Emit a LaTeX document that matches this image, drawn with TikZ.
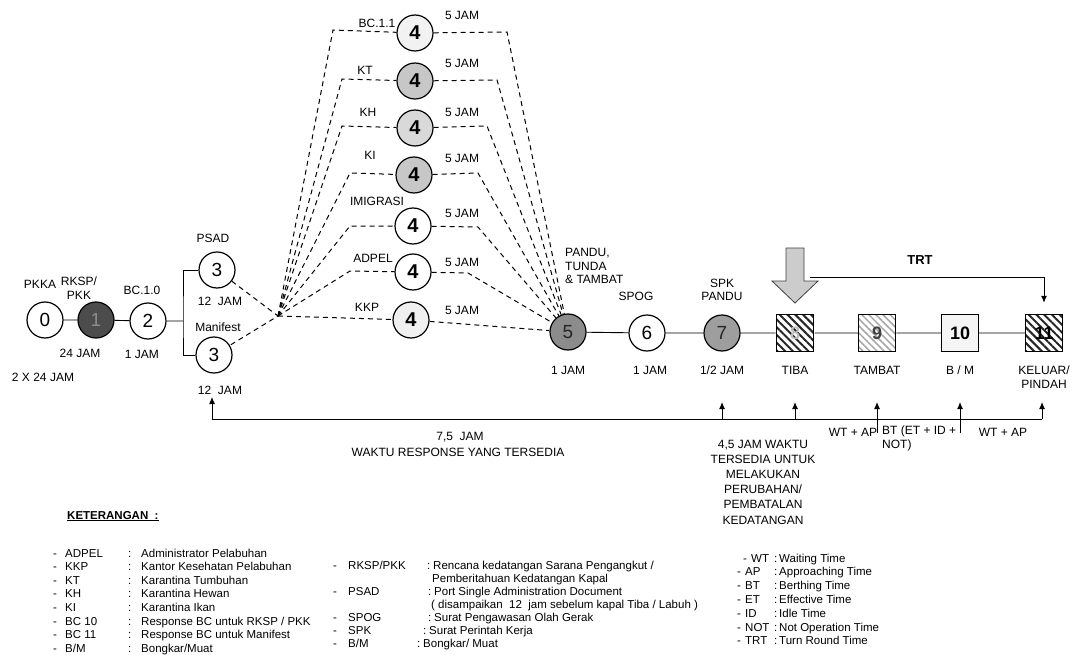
\documentclass[tikz,border=0pt]{standalone}
\usepackage{fontspec}
\setmainfont{Liberation Sans}
\usetikzlibrary{patterns.meta}
\usetikzlibrary{arrows.meta}

\begin{document}
\begin{tikzpicture}[x=1pt,y=-1pt,
  lab/.style={inner sep=0pt,font=\fontsize{12}{13.5}\selectfont},
  leg/.style={inner sep=0pt,anchor=west,text height=8.5pt,text depth=2.5pt,
    font=\fontsize{11.5}{13}\selectfont},
  circ/.style={circle,draw,line width=1.2pt,minimum size=36pt,inner sep=0pt,
    font=\fontsize{19}{19}\selectfont},
  four/.style={circ,font=\fontsize{20}{20}\selectfont\bfseries},
  sq/.style={draw,line width=1.4pt,minimum size=37pt,inner sep=0pt,
    font=\fontsize{18}{18}\selectfont\bfseries},
  dsh/.style={line width=1pt,dash pattern=on 5pt off 4pt},
  tick/.style={line width=1pt,-{Latex[length=7pt,width=6pt]}}]
 \useasboundingbox (0,0) rectangle (1073,655);

 % first stage
 \node[circ] (n0) at (45,320) {0};
 \node[circ,fill=black!70,text=black!45] (n1) at (96,320) {1};
 \node[circ] (n2) at (148,321) {2};
 \node[circ] (psad) at (217,270) {3};
 \node[circ] (manif) at (214,355) {3};
 \coordinate (brk) at (183,321);
 \draw[line width=0.9pt] (n0) -- (n1) -- (n2) -- (brk);
 \draw[line width=0.9pt] (psad) -| (brk) |- (manif);

 \node[lab] (lpkka) at (40,284) {PKKA};
 \node[lab,align=center] (lrksp) at (79,288) {RKSP/\\PKK};
 \node[lab] (lbc10) at (142,290) {BC.1.0};
 \node[lab] (l24) at (80,353) {24 JAM};
 \node[lab] (l1a) at (142,354) {1 JAM};
 \node[lab] (l2x) at (43,377) {2 X 24 JAM};
 \node[lab] (lpsad) at (213,238) {PSAD};
 \node[lab] (l12a) at (220,301) {12\ \ JAM};
 \node[lab] (lman) at (218,327) {Manifest};
 \node[lab] (l12b) at (220,390) {12\ \ JAM};

 % the seven offices
 \node[four,fill=black!5] (bc) at (415,33) {4};
 \node[four,fill=black!22] (kt) at (415,81) {4};
 \node[four,fill=black!15] (kh) at (415,128) {4};
 \node[four,fill=black!22] (ki) at (414,175) {4};
 \node[four] (imi) at (413,226) {4};
 \node[four] (adp) at (413,272) {4};
 \node[four,fill=black!6] (kkp) at (411,320) {4};

 \node[lab] (lbc) at (377,23) {BC.1.1};
 \node[lab] (lkt) at (365,70) {KT};
 \node[lab] (lkh) at (368,112) {KH};
 \node[lab] (lki) at (370,155) {KI};
 \node[lab] (limi) at (377,201) {IMIGRASI};
 \node[lab] (ladp) at (373,258) {ADPEL};
 \node[lab] (lkkp) at (367,307) {KKP};
 \foreach \nm/\y in {a/15,b/63,c/112,d/158,e/213,f/262,g/310}
  \node[lab] (j\nm) at (462,\y) {5 JAM};

 \node[circ,fill=black!45,text=black!85] (n5) at (568,332) {5};
 \coordinate (conv) at (278,316);
 \draw[dsh] (psad) -- (conv) -- (manif);
 \draw[dsh] (conv) -- (333,30) -- (bc);
 \draw[dsh] (conv) -- (342,79) -- (kt);
 \draw[dsh] (conv) -- (342,126) -- (kh);
 \draw[dsh] (conv) -- (350,173) -- (ki);
 \draw[dsh] (conv) -- (350,226) -- (imi);
 \draw[dsh] (conv) -- (350,271) -- (adp);
 \draw[dsh] (conv) -- (kkp);
 \draw[dsh] (bc) -- (507,32) -- (n5);
 \draw[dsh] (kt) -- (497,80) -- (n5);
 \draw[dsh] (kh) -- (487,126) -- (n5);
 \draw[dsh] (ki) -- (478,173) -- (n5);
 \draw[dsh] (imi) -- (478,227) -- (n5);
 \draw[dsh] (adp) -- (468,273) -- (n5);
 \draw[dsh] (kkp) -- (n5);

 % arrival and berthing
 \node[circ] (n6) at (647,333) {6};
 \node[circ,fill=black!38,text=black!85] (n7) at (722,333) {7};
 \node[sq,pattern={Lines[angle=-45,distance=5.5pt,line width=2pt]},
   pattern color=black!85,text=black!25] (s8) at (795,333) {8};
 \node[sq,pattern={Lines[angle=-45,distance=5pt,line width=1.5pt]},
   pattern color=black!35,text=black!75] (s9) at (877,333) {9};
 \node[sq,fill=black!4] (s10) at (960,333) {10};
 \node[sq,pattern={Lines[angle=-45,distance=5.5pt,line width=2pt]},
   pattern color=black!85] (s11) at (1044,333) {11};
 \draw[line width=0.9pt] (n5) -- (n6) -- (n7) -- (s8) -- (s9) -- (s10) -- (s11);

 \node[lab,align=left,anchor=west] (lpandu) at (565,266) {PANDU,\\TUNDA\\\& TAMBAT};
 \node[lab] (lspog) at (636,296) {SPOG};
 \node[lab,align=center] (lspk) at (722,290) {SPK\\PANDU};
 \node[lab] (l1b) at (568,370) {1 JAM};
 \node[lab] (l1c) at (650,370) {1 JAM};
 \node[lab] (lhalf) at (722,370) {1/2 JAM};
 \node[lab] (ltiba) at (795,370) {TIBA};
 \node[lab] (ltambat) at (877,370) {TAMBAT};
 \node[lab] (lbm) at (960,370) {B / M};
 \node[lab,align=center] (lkel) at (1044,377) {KELUAR/\\PINDAH};

 \draw[fill=black!20,draw=black!75,line width=0.8pt] (786,248) -- (804,248) -- (804,281)
   -- (818,281) -- (795,303) -- (772,281) -- (786,281) -- cycle;
 \node[lab,font=\fontsize{13}{13}\selectfont\bfseries] (ltrt) at (920,260) {TRT};
 \coordinate (trt0) at (810,277);
 \draw[tick,shorten >=11pt] (trt0) -| (s11.north);

 % time line
 \coordinate (wl) at (212,419);
 \coordinate (wr) at (1042,419);
 \coordinate (wtip) at (212,397);
 \draw[line width=0.9pt] (wl) -- (wr);
 \draw[tick] (wl) -- (wtip);
 \foreach \t/\x/\yb in {a/722/419,b/795/419,c/877/433,d/960/433,e/1042/419}{
  \coordinate (tb\t) at (\x,\yb);
  \coordinate (tt\t) at (\x,402);
  \draw[tick] (tb\t) -- (tt\t);
 }
 \node[lab] (l75) at (460,437) {7,5\ \ JAM};
 \node[lab] (lresp) at (458,452) {WAKTU RESPONSE YANG TERSEDIA};
 \node[lab,align=center,font=\fontsize{12}{15.2}\selectfont] (l45) at (763,482)
   {4,5 JAM WAKTU\\TERSEDIA UNTUK\\MELAKUKAN\\PERUBAHAN/\\PEMBATALAN\\KEDATANGAN};
 \node[lab] (lwt1) at (853,432) {WT + AP};
 \node[lab,align=left,anchor=north west] (lbt) at (882,426) {BT (ET + ID +\\NOT)};
 \node[lab] (lwt2) at (1003,432) {WT + AP};

 % legend
 \node[leg,font=\fontsize{11.5}{13}\selectfont\bfseries] (ket) at (67,516)
   {\underline{KETERANGAN\ \ :}};
 \foreach \i/\ab/\ds in {0/ADPEL/Administrator Pelabuhan,1/KKP/Kantor Kesehatan Pelabuhan,
   2/KT/Karantina Tumbuhan,3/KH/Karantina Hewan,4/KI/Karantina Ikan,
   5/BC 10/{Response BC untuk RKSP / PKK},6/BC 11/Response BC untuk Manifest,
   7/{B/M}/{Bongkar/Muat}}{
  \node[leg] (ld\i) at (53,554+13.6*\i) {-};
  \node[leg] (la\i) at (65,554+13.6*\i) {\ab};
  \node[leg] (lc\i) at (128,554+13.6*\i) {:};
  \node[leg] (lt\i) at (141,554+13.6*\i) {\ds};
 }
 \foreach \i/\ab/\cx/\ds in {0/{RKSP/PKK}/427/{Rencana kedatangan Sarana Pengangkut /},
   2/PSAD/428/Port Single Administration Document,4/SPOG/428/Surat Pengawasan Olah Gerak,
   5/SPK/423/Surat Perintah Kerja,6/{B/M}/417/{Bongkar/ Muat}}{
  \node[leg] (md\i) at (333,566+13*\i) {-};
  \node[leg] (ma\i) at (348,566+13*\i) {\ab};
  \node[leg] (mc\i) at (\cx,566+13*\i) {:};
  \node[leg] (mt\i) at (\cx+6,566+13*\i) {\ds};
 }
 \node[leg] (mt1) at (432,579) {Pemberitahuan Kedatangan Kapal};
 \node[leg] (mt3) at (431,605) {(\ disampaikan\ \ 12\ \ jam sebelum kapal Tiba / Labuh )};
 \foreach \i/\dx/\ab/\ds in {0/743/WT/Waiting Time,1/737/AP/Approaching Time,
   2/737/BT/Berthing Time,3/737/ET/Effective Time,4/737/ID/Idle Time,
   5/737/NOT/Not Operation Time,6/737/TRT/Turn Round Time}{
  \node[leg] (rd\i) at (\dx,559+13.8*\i) {-};
  \node[leg] (ra\i) at (\dx+8,559+13.8*\i) {\ab};
  \node[leg] (rc\i) at (774,559+13.8*\i) {:};
  \node[leg] (rt\i) at (779,559+13.8*\i) {\ds};
 }
\end{tikzpicture}
\end{document}
